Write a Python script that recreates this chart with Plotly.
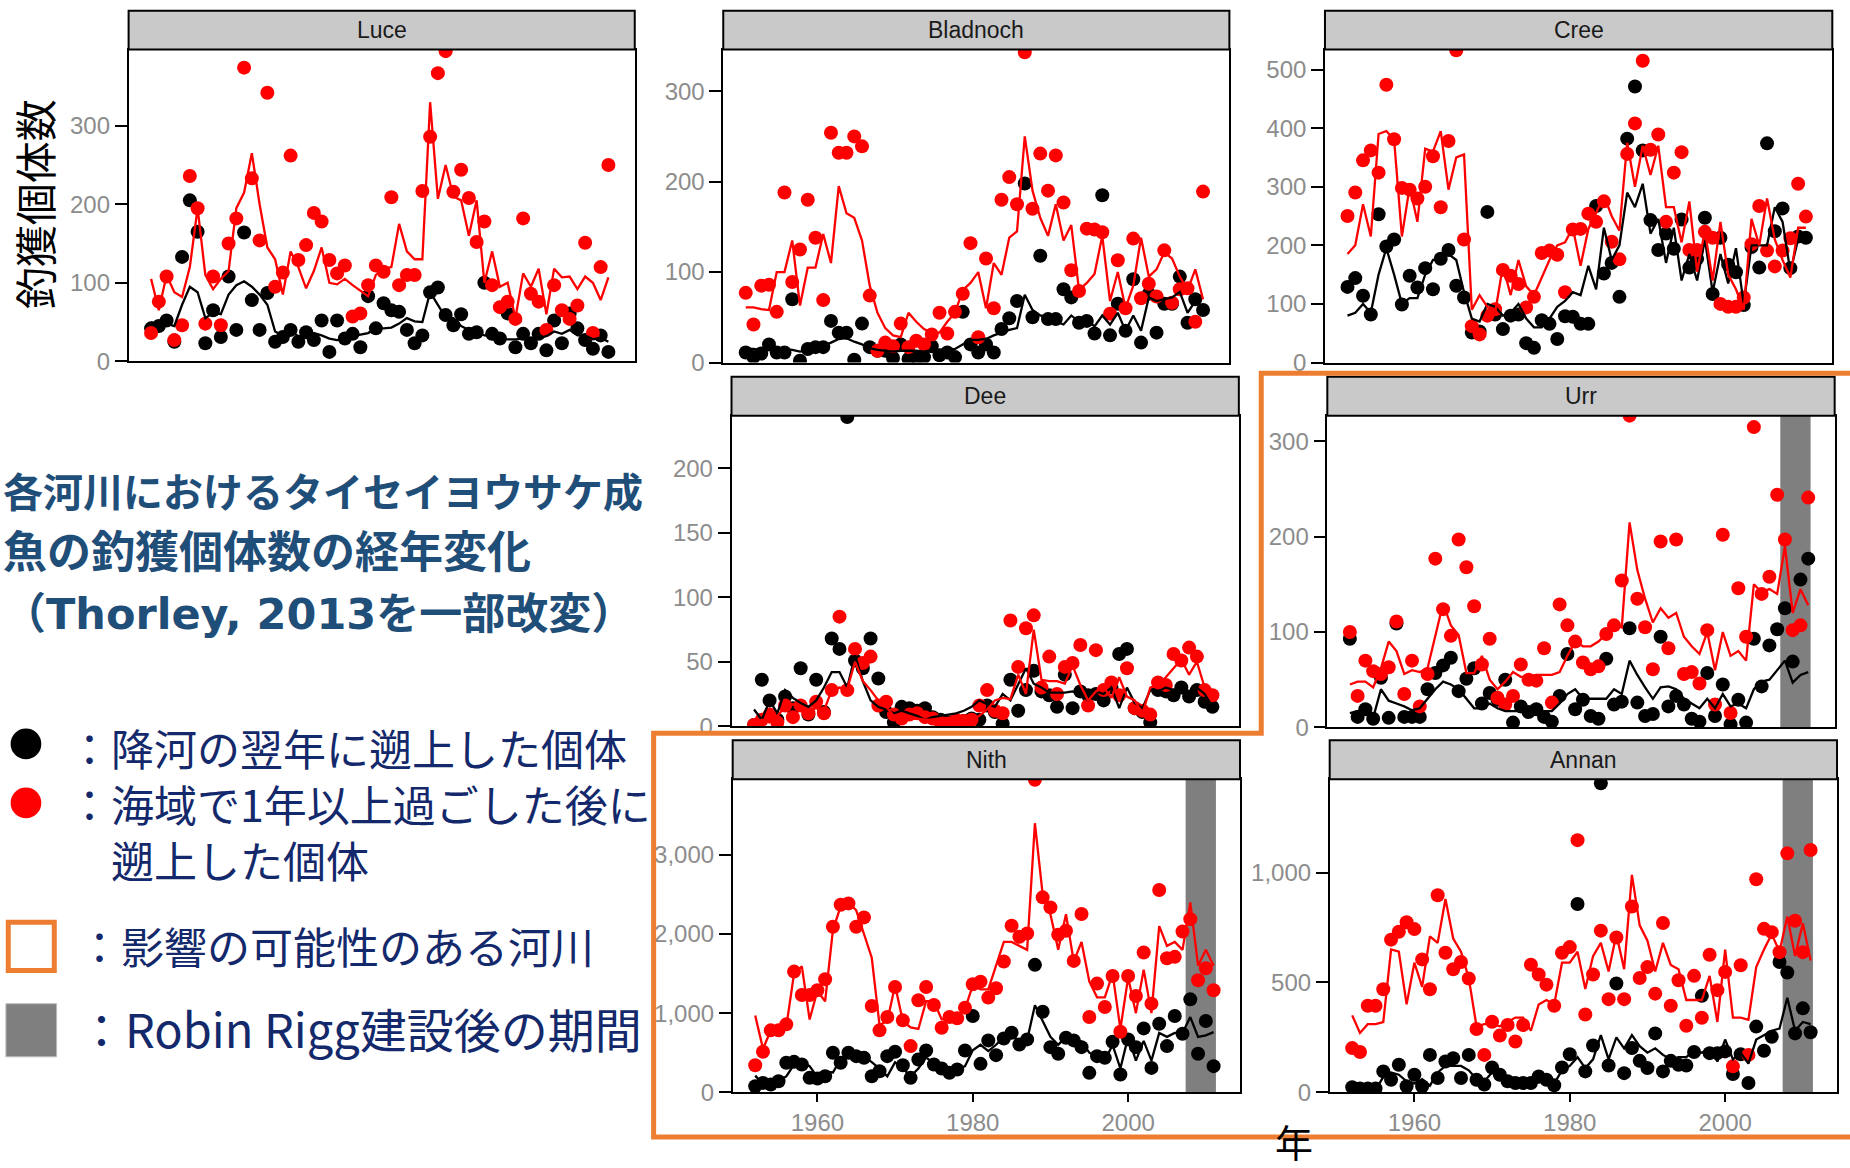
import plotly.graph_objects as go

# ---------------- data ----------------
YEARS = list(range(1952, 2012))

LUCE_RED_PTS = [36, 76, 108, 27, 46, 236, 195, 48, 108, 46,
                150, 182, 374, 233, 154, 342, 95, 113, 262, 129,
                148, 189, 178, 129, 112, 122, 57, 61, 97, 122,
                114, 209, 97, 110, 110, 217, 286, 367, 395, 216,
                244, 208, 152, 178, 97, 69, 76, 54, 182, 86,
                76, 40, 97, 65, 54, 71, 151, 36, 120, 250]
LUCE_BLACK_PTS = [42, 45, 52, 25, 133, 205, 165, 23, 65, 31,
                  108, 40, 164, 78, 40, 87, 25, 31, 40, 25,
                  37, 27, 52, 12, 52, 29, 35, 18, 83, 42,
                  74, 65, 63, 40, 23, 33, 88, 94, 59, 46,
                  60, 35, 37, 100, 35, 29, 61, 18, 35, 23,
                  35, 14, 52, 23, 61, 42, 27, 16, 33, 12]
LUCE_RED_LINE = [105, 65, 110, 88, 82, 120, 195, 110, 92, 105,
                 115, 195, 215, 265, 200, 145, 130, 85, 140, 120,
                 93, 115, 145, 100, 98, 105, 97, 90, 83, 110,
                 118, 120, 175, 140, 130, 130, 330, 207, 250, 210,
                 205, 160, 205, 100, 140, 95, 100, 55, 112, 95,
                 118, 60, 118, 107, 108, 92, 108, 100, 78, 107]
LUCE_BLACK_LINE = [50, 45, 48, 45, 72, 95, 88, 55, 62, 60,
                   85, 97, 102, 95, 85, 72, 38, 33, 38, 32,
                   30, 36, 33, 29, 27, 28, 32, 34, 36, 42,
                   42, 43, 48, 55, 51, 50, 88, 72, 56, 55,
                   45, 40, 38, 33, 32, 30, 28, 28, 29, 25,
                   30, 32, 38, 35, 40, 33, 33, 28, 30, 25]

BLADNOCH_RED_PTS = [77, 42, 85, 86, 56, 188, 89, 125, 180, 138,
                    69, 254, 232, 232, 250, 239, 74, 13, 22, 18,
                    43, 17, 24, 20, 31, 55, 32, 56, 76, 132,
                    28, 115, 60, 180, 205, 175, 343, 170, 231, 190,
                    229, 177, 102, 79, 148, 147, 144, 54, 113, 60,
                    137, 71, 87, 73, 124, 66, 81, 82, 45, 189]
BLADNOCH_BLACK_PTS = [11, 6, 10, 20, 11, 11, 70, 2, 15, 17,
                      17, 46, 33, 33, 3, 43, 17, 13, 13, 5,
                      20, 4, 6, 6, 18, 8, 11, 6, 56, 20,
                      11, 20, 11, 37, 49, 68, 198, 50, 118, 48,
                      48, 81, 72, 44, 46, 32, 185, 30, 65, 35,
                      92, 22, 76, 33, 65, 65, 95, 44, 70, 58]
BLADNOCH_RED_LINE = [61, 61, 59, 58, 100, 100, 135, 63, 105, 105,
                     142, 110, 195, 165, 160, 135, 85, 55, 38, 30,
                     28, 55, 45, 37, 33, 33, 45, 55, 80, 88,
                     100, 60, 110, 97, 138, 145, 250, 190, 160, 140,
                     175, 135, 152, 80, 88, 98, 140, 68, 100, 60,
                     85, 138, 95, 103, 122, 115, 95, 80, 103, 70]
BLADNOCH_BLACK_LINE = [15, 15, 14, 14, 15, 15, 14, 12, 14, 16,
                       18, 22, 26, 27, 23, 20, 16, 14, 13, 12,
                       13, 13, 13, 12, 14, 14, 14, 15, 20, 25,
                       25, 26, 30, 33, 36, 38, 75, 58, 52, 50,
                       45, 42, 52, 45, 47, 40, 52, 42, 55, 35,
                       52, 35, 72, 68, 70, 72, 78, 55, 68, 60]

CREE_RED_PTS = [250, 290, 345, 362, 324, 474, 381, 298, 295, 280,
                300, 352, 265, 378, 533, 210, 62, 48, 80, 91,
                158, 148, 134, 94, 112, 187, 191, 184, 120, 227,
                228, 254, 240, 275, 206, 176, 356, 408, 515, 363,
                389, 240, 324, 359, 192, 192, 223, 213, 100, 95,
                95, 111, 202, 267, 191, 164, 191, 212, 305, 249]
CREE_BLACK_PTS = [129, 144, 114, 82, 253, 198, 210, 99, 148, 128,
                  161, 125, 177, 192, 131, 111, 51, 53, 257, 82,
                  57, 80, 82, 33, 25, 72, 66, 40, 79, 78,
                  66, 66, 267, 152, 170, 112, 382, 471, 362, 243,
                  192, 220, 194, 244, 162, 177, 247, 117, 213, 167,
                  154, 98, 197, 162, 374, 224, 263, 161, 215, 213]
CREE_RED_LINE = [185, 200, 270, 215, 390, 395, 380, 215, 300, 240,
                 365, 360, 395, 295, 350, 355, 90, 115, 95, 85,
                 165, 115, 175, 130, 115, 145, 175, 200, 205, 230,
                 165, 228, 255, 285, 250, 225, 375, 300, 370, 320,
                 370, 265, 265, 205, 275, 155, 225, 140, 240, 150,
                 125, 90, 245, 200, 280, 210, 175, 145, 230, 230]
CREE_BLACK_LINE = [80, 85, 100, 85, 150, 195, 150, 100, 110, 110,
                   150, 175, 175, 185, 175, 120, 75, 70, 100, 95,
                   80, 85, 100, 75, 60, 60, 75, 95, 105, 120,
                   115, 165, 125, 230, 175, 200, 290, 265, 305, 220,
                   245, 170, 230, 140, 185, 140, 210, 120, 185, 135,
                   195, 100, 200, 200, 200, 265, 240, 155, 210, 215]

DEE_RED_PTS = [1, 5, 9, 3, 16, 7, 16, 10, 19, 10,
               28, 85, 28, 60, 49, 54, 16, 19, 9, 6,
               9, 10, 7, 6, 3, 2, 5, 4, 5, 16,
               28, 12, 10, 82, 46, 76, 86, 30, 54, 25,
               46, 49, 63, 16, 59, 28, 34, 24, 45, 14,
               12, 9, 34, 32, 56, 51, 61, 54, 28, 24]
DEE_BLACK_PTS = [1, 36, 20, 5, 23, 14, 45, 9, 36, 11,
                 68, 60, 240, 51, 45, 68, 37, 11, 3, 15,
                 14, 12, 14, 7, 5, 3, 2, 4, 6, 5,
                 16, 11, 2, 36, 12, 28, 43, 27, 24, 15,
                 40, 14, 27, 24, 25, 20, 30, 56, 60, 14,
                 11, 3, 28, 27, 24, 30, 23, 28, 19, 15]
DEE_RED_LINE = [2, 5, 3, 8, 15, 17, 15, 12, 14, 12,
                28, 30, 29, 50, 35, 28, 20, 15, 8, 7,
                6, 6, 5, 5, 5, 4, 3, 4, 5, 8,
                13, 20, 22, 21, 40, 25, 75, 36, 35, 35,
                33, 47, 32, 20, 27, 30, 22, 38, 23, 20,
                10, 30, 32, 38, 45, 52, 40, 50, 30, 20]
DEE_BLACK_LINE = [13, 5, 20, 10, 28, 22, 18, 15, 20, 30,
                  42, 42, 30, 55, 35, 20, 15, 13, 10, 12,
                  10, 8, 5, 7, 8, 9, 10, 12, 15, 20,
                  17, 15, 25, 20, 32, 45, 33, 30, 26, 26,
                  26, 27, 25, 20, 27, 25, 30, 14, 30, 18,
                  14, 28, 27, 30, 28, 30, 22, 30, 25, 15]

URR_RED_PTS = [100, 33, 70, 59, 56, 63, 111, 35, 70, 22,
               56, 177, 124, 96, 197, 168, 127, 66, 93, 31,
               24, 33, 66, 50, 49, 83, 26, 129, 107, 90,
               68, 61, 64, 98, 107, 154, 327, 135, 105, 61,
               195, 83, 197, 56, 58, 46, 102, 24, 202, 15,
               146, 95, 315, 140, 158, 244, 197, 102, 107, 241]
URR_BLACK_PTS = [93, 11, 19, 9, 52, 10, 109, 11, 11, 11,
                 40, 57, 65, 73, 38, 51, 62, 25, 36, 29,
                 50, 5, 22, 16, 19, 11, 6, 33, 77, 19,
                 29, 12, 9, 72, 24, 27, 104, 26, 12, 14,
                 95, 22, 33, 24, 9, 6, 57, 12, 45, 3,
                 29, 5, 93, 43, 86, 103, 125, 69, 155, 177]
URR_RED_LINE = [45, 48, 48, 42, 62, 90, 80, 56, 60, 58,
                62, 95, 130, 107, 97, 57, 57, 75, 50, 40,
                48, 58, 53, 53, 55, 55, 55, 58, 75, 90,
                85, 85, 90, 98, 108, 105, 215, 165, 135, 110,
                125, 115, 120, 95, 85, 77, 100, 60, 100, 75,
                80, 70, 150, 142, 145, 140, 190, 120, 145, 128]
URR_BLACK_LINE = [15, 17, 20, 10, 40, 28, 25, 22, 18, 20,
                  30, 40, 48, 45, 40, 30, 20, 20, 25, 20,
                  17, 17, 17, 17, 17, 17, 17, 25, 35, 40,
                  30, 30, 30, 30, 40, 35, 70, 55, 42, 30,
                  42, 43, 40, 30, 25, 20, 30, 20, 35, 22,
                  25, 20, 40, 48, 50, 60, 70, 47, 55, 58]

NITH_RED_PTS = [342, 511, 782, 782, 858, 1525, 1229, 1229, 1289, 1428,
                2091, 2370, 2387, 2091, 2210, 1090, 782, 951, 1331, 909,
                583, 1162, 1331, 1103, 815, 951, 934, 1069, 1365, 1398,
                1196, 1314, 1652, 2104, 1965, 2007, 3950, 2463, 2336, 1990,
                2041, 1660, 2252, 951, 1373, 1077, 1470, 765, 1470, 1217,
                1766, 1120, 2556, 1694, 1711, 2032, 2188, 1415, 1567, 1289]
NITH_BLACK_PTS = [76, 118, 97, 139, 372, 384, 351, 182, 173, 203,
                  499, 372, 499, 456, 435, 203, 266, 456, 511, 342,
                  182, 414, 528, 351, 300, 245, 287, 528, 963, 359,
                  655, 469, 680, 752, 604, 668, 1610, 1018, 570, 486,
                  689, 655, 570, 245, 456, 435, 638, 224, 668, 570,
                  807, 308, 866, 583, 963, 739, 1174, 486, 900, 330]
NITH_RED_LINE = [970, 550, 780, 800, 830, 1500, 1590, 920, 1280, 1150,
                 2050, 2350, 2400, 2300, 2000, 1700, 850, 900, 1350, 900,
                 820, 800, 1150, 1150, 920, 920, 950, 1050, 1350, 1300,
                 1300, 1600, 1900, 1900, 1850, 1800, 3400, 2500, 2250, 1800,
                 2250, 1650, 1900, 1400, 1200, 1200, 1500, 800, 1450, 1000,
                 1550, 1000, 2100, 1850, 1900, 1800, 2400, 1600, 1800, 1600]
NITH_BLACK_LINE = [210, 100, 150, 150, 200, 350, 380, 330, 190, 260,
                   250, 420, 490, 470, 450, 380, 300, 200, 380, 300,
                   200, 300, 440, 360, 330, 280, 280, 330, 530, 600,
                   520, 600, 700, 730, 640, 660, 1100, 900, 700, 600,
                   700, 680, 640, 500, 450, 400, 600, 300, 700, 400,
                   650, 400, 750, 700, 750, 750, 950, 700, 720, 760]

ANNAN_RED_PTS = [201, 183, 394, 394, 469, 695, 731, 774, 743, 605,
                 469, 897, 635, 560, 593, 518, 288, 170, 321, 258,
                 306, 231, 306, 581, 536, 490, 394, 635, 661, 1148,
                 354, 536, 736, 424, 705, 424, 846, 520, 570, 449,
                 771, 394, 510, 303, 530, 339, 626, 465, 548, 118,
                 578, 170, 970, 744, 729, 638, 1088, 781, 638, 1103]
ANNAN_BLACK_PTS = [23, 17, 17, 17, 95, 57, 125, 27, 80, 27,
                   170, 65, 140, 155, 65, 170, 57, 35, 113, 80,
                   50, 42, 42, 42, 72, 57, 32, 113, 173, 857,
                   95, 213, 1407, 122, 495, 87, 201, 143, 110, 268,
                   95, 143, 125, 122, 183, 439, 178, 178, 186, 83,
                   173, 42, 299, 189, 253, 593, 545, 268, 382, 273]
ANNAN_RED_LINE = [350, 270, 310, 310, 320, 650, 640, 400, 590, 480,
                  710, 680, 880, 700, 640, 520, 300, 310, 310, 300,
                  320, 340, 340, 280, 400, 420, 400, 590, 590, 640,
                  470, 620, 680, 550, 720, 560, 990, 760, 690, 550,
                  680, 580, 560, 420, 420, 420, 530, 320, 650, 340,
                  340, 330, 570, 650, 720, 640, 800, 620, 770, 600]
ANNAN_BLACK_LINE = [15, 15, 15, 10, 70, 90, 80, 50, 40, 60,
                    30, 90, 120, 120, 120, 100, 60, 50, 90, 80,
                    50, 40, 40, 40, 45, 50, 40, 100, 120, 160,
                    110, 150, 260, 150, 250, 200, 260, 210, 180, 200,
                    170, 150, 160, 160, 190, 180, 200, 140, 240, 150,
                    180, 130, 240, 260, 280, 290, 430, 280, 320, 310]

RIVERS = ["Luce", "Bladnoch", "Cree", "Dee", "Urr", "Nith", "Annan"]
SERIES = {
    "Luce": (LUCE_BLACK_PTS, LUCE_RED_PTS, LUCE_BLACK_LINE, LUCE_RED_LINE),
    "Bladnoch": (BLADNOCH_BLACK_PTS, BLADNOCH_RED_PTS, BLADNOCH_BLACK_LINE, BLADNOCH_RED_LINE),
    "Cree": (CREE_BLACK_PTS, CREE_RED_PTS, CREE_BLACK_LINE, CREE_RED_LINE),
    "Dee": (DEE_BLACK_PTS, DEE_RED_PTS, DEE_BLACK_LINE, DEE_RED_LINE),
    "Urr": (URR_BLACK_PTS, URR_RED_PTS, URR_BLACK_LINE, URR_RED_LINE),
    "Nith": (NITH_BLACK_PTS, NITH_RED_PTS, NITH_BLACK_LINE, NITH_RED_LINE),
    "Annan": (ANNAN_BLACK_PTS, ANNAN_RED_PTS, ANNAN_BLACK_LINE, ANNAN_RED_LINE),
}
Y_MAX = {"Luce": 397, "Bladnoch": 346, "Cree": 534, "Dee": 241,
         "Urr": 327, "Nith": 3955, "Annan": 1425}
Y_TICKS = {"Luce": [0, 100, 200, 300], "Bladnoch": [0, 100, 200, 300],
           "Cree": [0, 100, 200, 300, 400, 500], "Dee": [0, 50, 100, 150, 200],
           "Urr": [0, 100, 200, 300], "Nith": [0, 1000, 2000, 3000],
           "Annan": [0, 500, 1000]}
X_TICKS = [1960, 1980, 2000]
X_RANGE = [1949.1, 2014.4]
ROBIN_RIGG = [2007.4, 2011.3]
RIGG_RIVERS = ["Urr", "Nith", "Annan"]

# ---------------- layout geometry (reference pixels, 1568 x 990 basis) ----------------
FW, FH = 1850, 1182
RW, RH = 1568.0, 990.0
def px(x):
    return x / RW
def py(y):
    return 1 - y / RH

BOX = {  # x0, x1, top, bottom of each plot panel
    "Luce": (109, 538, 42, 306),
    "Bladnoch": (613, 1042, 42, 307),
    "Cree": (1123, 1553, 42, 307),
    "Dee": (620, 1050, 352, 615),
    "Urr": (1125, 1555, 352, 616),
    "Nith": (621, 1051, 660, 925),
    "Annan": (1127, 1557, 660, 925),
}
STRIP_H = 33
BOTTOM_ROW = ["Nith", "Annan"]

TICK_GRAY = "#8c8c8c"
TICK_FONT = dict(family="Liberation Sans, Arial", size=24, color=TICK_GRAY)
JP = "Noto Sans CJK JP"
TITLE_COLOR = "#1F4E79"
LEG_COLOR = "#13296B"
ORANGE = "#ED7D31"
BAND_GRAY = "#7F7F7F"

fig = go.Figure()
shapes = []
annotations = []

for i, name in enumerate(RIVERS):
    n = i + 1
    sfx = "" if n == 1 else str(n)
    xa, ya = "x" + sfx, "y" + sfx
    black_pts, red_pts, black_line, red_line = SERIES[name]
    fig.add_trace(go.Scatter(x=YEARS, y=black_pts, mode="markers", xaxis=xa, yaxis=ya,
                             marker=dict(color="black", size=14), showlegend=False))
    fig.add_trace(go.Scatter(x=YEARS, y=red_pts, mode="markers", xaxis=xa, yaxis=ya,
                             marker=dict(color="#FF0000", size=14), showlegend=False))
    fig.add_trace(go.Scatter(x=YEARS, y=black_line, mode="lines", xaxis=xa, yaxis=ya,
                             line=dict(color="black", width=2.3), showlegend=False))
    fig.add_trace(go.Scatter(x=YEARS, y=red_line, mode="lines", xaxis=xa, yaxis=ya,
                             line=dict(color="#FF0000", width=2.3), showlegend=False))

    x0, x1, top, bot = BOX[name]
    bottom_row = name in BOTTOM_ROW
    fig.layout["xaxis" + sfx] = dict(
        domain=[px(x0), px(x1)], range=X_RANGE, anchor=ya,
        showgrid=False, zeroline=False, showline=True, mirror=True,
        linecolor="black", linewidth=1.5,
        ticks="outside" if bottom_row else "", ticklen=8, tickwidth=2, tickcolor="black",
        tickvals=X_TICKS, showticklabels=bottom_row, tickfont=TICK_FONT,
        fixedrange=True)
    ticks = Y_TICKS[name]
    fig.layout["yaxis" + sfx] = dict(
        domain=[py(bot), py(top)], range=[0, Y_MAX[name]], anchor=xa,
        showgrid=False, zeroline=False, showline=True, mirror=True,
        linecolor="black", linewidth=1.5,
        ticks="outside", ticklen=12, tickwidth=2, tickcolor="black",
        tickvals=ticks, ticktext=[f"{t:,}" for t in ticks], tickfont=TICK_FONT,
        fixedrange=True)

    if name in RIGG_RIVERS:
        shapes.append(dict(type="rect", xref=xa, yref=ya + " domain",
                           x0=ROBIN_RIGG[0], x1=ROBIN_RIGG[1], y0=0, y1=1,
                           fillcolor=BAND_GRAY, line=dict(width=0), layer="below"))
    # facet strip
    shapes.append(dict(type="rect", xref="paper", yref="paper",
                       x0=px(x0), x1=px(x1), y0=py(top), y1=py(top - STRIP_H),
                       fillcolor="#C9C9C9", line=dict(color="black", width=2)))
    annotations.append(dict(xref="paper", yref="paper", x=px((x0 + x1) / 2),
                            y=py(top - STRIP_H / 2), text=name, showarrow=False,
                            font=dict(family="Liberation Sans, Arial", size=23, color="#1a1a1a"),
                            xanchor="center", yanchor="middle"))

# orange outline around the rivers that may be affected
path = (f"M {px(1575)},{py(316)} L {px(1069)},{py(316)} L {px(1069)},{py(621)} "
        f"L {px(554)},{py(621)} L {px(554)},{py(963)} L {px(1575)},{py(963)}")
shapes.append(dict(type="path", xref="paper", yref="paper", path=path,
                   line=dict(color=ORANGE, width=5)))

# legend symbols
shapes.append(dict(type="circle", xref="paper", yref="paper",
                   x0=px(9), x1=px(35), y0=py(643), y1=py(617),
                   fillcolor="black", line=dict(width=0)))
shapes.append(dict(type="circle", xref="paper", yref="paper",
                   x0=px(9), x1=px(35), y0=py(693), y1=py(667),
                   fillcolor="#FF0000", line=dict(width=0)))
shapes.append(dict(type="rect", xref="paper", yref="paper",
                   x0=px(7), x1=px(46), y0=py(822), y1=py(781),
                   fillcolor="white", line=dict(color=ORANGE, width=5)))
shapes.append(dict(type="rect", xref="paper", yref="paper",
                   x0=px(5), x1=px(48), y0=py(895), y1=py(850),
                   fillcolor=BAND_GRAY, line=dict(color="#bdbdbd", width=1)))

def text(x, y, s, size, color, anchor="left", angle=0):
    annotations.append(dict(xref="paper", yref="paper", x=px(x), y=py(y),
                            text=s, showarrow=False, align="left",
                            xanchor=anchor, yanchor="middle", textangle=angle,
                            font=dict(family=JP, size=size, color=color)))

# title block (three lines in one text)
TITLE_LINES = ["各河川におけるタイセイヨウサケ成", "魚の釣獲個体数の経年変化",
               "（", "Thorley, 2013", "を一部改変）"]
title_html = ("<b><span style='font-size:40px'>" + TITLE_LINES[0] + "</span><br>"
              "<span style='font-size:44px'>" + TITLE_LINES[1] + "</span><br>"
              "<span style='font-size:43px'>" + TITLE_LINES[2]
              + "<span style='font-family:DejaVu Sans'>" + TITLE_LINES[3] + "</span>"
              + TITLE_LINES[4] + "</span></b>")
text(1, 467, title_html, 47, TITLE_COLOR)

# legend text
LEGEND_LINES = ["：降河の翌年に遡上した個体", "：海域で1年以上過ごした後に", "\u3000遡上した個体"]
text(56, 680, "<br>".join(LEGEND_LINES), 43, LEG_COLOR)
text(64, 800, "：影響の可能性のある河川", 43, LEG_COLOR)
text(64, 870, "：Robin Rigg建設後の期間", 47, LEG_COLOR)

# axis titles
text(28, 173, "釣獲個体数", 42, "black", anchor="center", angle=-90)
text(1097, 966, "年", 38, "black", anchor="center")

fig.update_layout(
    width=FW, height=FH, margin=dict(l=0, r=0, t=0, b=0),
    paper_bgcolor="white", plot_bgcolor="white",
    shapes=shapes, annotations=annotations, showlegend=False,
)

fig.write_html("out.html", config={"displayModeBar": False},
               post_script="document.body.style.margin='0px';")
